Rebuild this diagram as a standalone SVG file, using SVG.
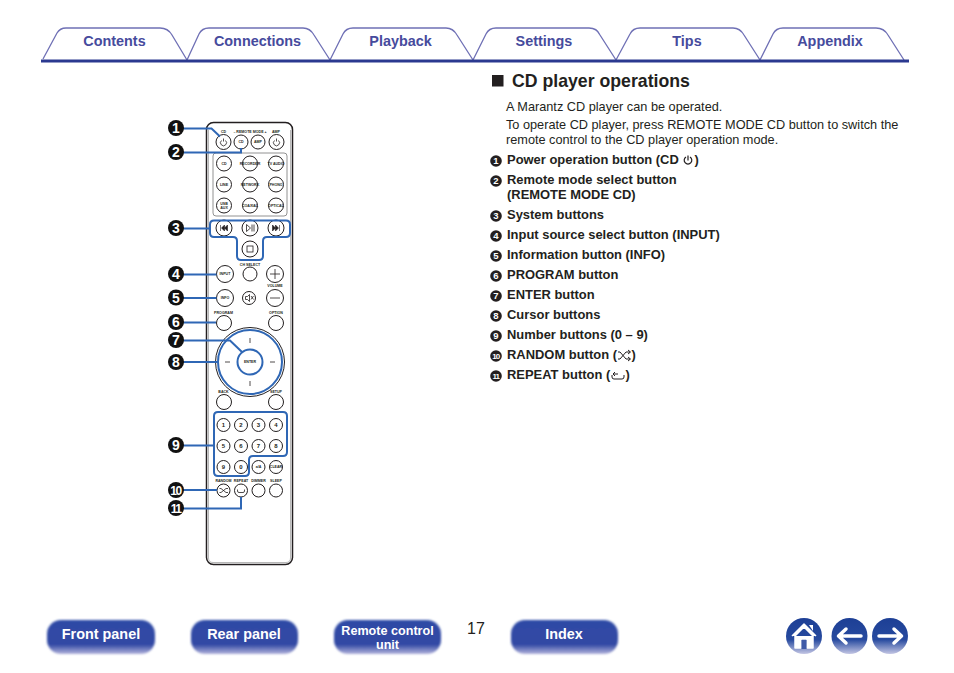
<svg xmlns="http://www.w3.org/2000/svg" width="954" height="673" viewBox="0 0 954 673">
<style>
text{font-family:"Liberation Sans",Arial,sans-serif}
.tab{fill:none;stroke:#6f70b5;stroke-width:1.3}
.tl{font-size:14.4px;font-weight:700;fill:#464b9d;text-anchor:middle}
.body{font-size:12.72px;fill:#231f20}
.it{font-size:12.95px;font-weight:700;fill:#231f20}
.bu{fill:#231f20}
.bn{font-size:9.500px;font-weight:700;fill:#fff;text-anchor:middle}
.bd{fill:#111}
.bdn{font-size:14px;font-weight:700;fill:#fff;text-anchor:middle}
.b{fill:#fff;stroke:#231f20;stroke-width:1}
.l{font-size:3.6px;font-weight:700;fill:#231f20;text-anchor:middle}
.n{font-size:6px;font-weight:700;fill:#231f20;text-anchor:middle}
.c{fill:none;stroke:#2f67b5;stroke-width:2}
.nb{font-size:14.400px;font-weight:700;fill:#fff;text-anchor:middle}
.nbs{font-size:12.600px;font-weight:700;fill:#fff;text-anchor:middle}
.s{fill:none;stroke:#231f20;stroke-width:.8}
</style>
<defs>
<linearGradient id="g" x1="0" y1="0" x2="0" y2="1"><stop offset="0" stop-color="#2f4ba6"/><stop offset=".72" stop-color="#3149a4"/><stop offset="1" stop-color="#b3b3dc"/></linearGradient>
<linearGradient id="h" x1="0" y1="0" x2="0" y2="1"><stop offset="0" stop-color="#1d3f95"/><stop offset=".6" stop-color="#274a9f"/><stop offset="1" stop-color="#c4c6e4"/></linearGradient>
<filter id="blur" x="-10%" y="-20%" width="120%" height="140%"><feGaussianBlur stdDeviation="1"/></filter>
</defs>

<g id="tabs">
<path class="tab" d="M43 59L57 33Q60 28 66 28H160Q168 28 172 35L187 60"/>
<path class="tab" d="M187 60L199 34Q202 28 209 28H303Q310 28 314 35L330 60"/>
<path class="tab" d="M330 60L343 34Q346 28 353 28H446Q453 28 457 35L473 60"/>
<path class="tab" d="M473 60L486 34Q489 28 496 28H589Q597 28 600 35L616 60"/>
<path class="tab" d="M616 60L630 34Q633 28 640 28H733Q740 28 744 35L760 60"/>
<path class="tab" d="M760 60L773 34Q776 28 783 28H876Q884 28 888 35L904 60"/>
<rect x="41" y="59.500" width="868" height="3" fill="#2b3990"/>
<text class="tl" x="114.500" y="46">Contents</text>
<text class="tl" x="257.500" y="46">Connections</text>
<text class="tl" x="400.500" y="46">Playback</text>
<text class="tl" x="544" y="46">Settings</text>
<text class="tl" x="687" y="46">Tips</text>
<text class="tl" x="830" y="46">Appendix</text>
</g>

<g id="remote">
<rect x="206.500" y="122.500" width="86" height="442" rx="7" fill="#fff" stroke="#231f20" stroke-width="1.500"/>
<path d="M208.500 130V558Q208.500 562.500 213 562.500H286Q290.500 562.500 290.500 558V130" fill="none" stroke="#9a9a9a" stroke-width=".7"/>
<text class="l" x="223.500" y="133">CD</text><text class="l" x="250" y="133">– REMOTE MODE +</text><text class="l" x="276" y="133">AMP</text>
<circle class="b" cx="223.500" cy="142" r="7.500"/><circle class="b" cx="241" cy="142" r="7"/><circle class="b" cx="258" cy="142" r="7"/><circle class="b" cx="276.500" cy="142" r="7.500"/>
<path class="s" d="M221.500 140.500a3 3 0 1 0 4 0M223.500 138.500v3M274.500 140.500a3 3 0 1 0 4 0M276.500 138.500v3"/>
<text class="l" x="241" y="143.300">CD</text><text class="l" x="258" y="143.300">AMP</text>
<rect x="213" y="153" width="74" height="63" rx="3" fill="none" stroke="#777" stroke-width=".8"/>
<g class="b"><circle cx="224" cy="163.500" r="7.500"/><circle cx="250" cy="163.500" r="7.500"/><circle cx="276" cy="163.500" r="7.500"/><circle cx="224" cy="184.500" r="7.500"/><circle cx="250" cy="184.500" r="7.500"/><circle cx="276" cy="184.500" r="7.500"/><circle cx="224" cy="205.500" r="7.500"/><circle cx="250" cy="205.500" r="7.500"/><circle cx="276" cy="205.500" r="7.500"/></g>
<text class="l" x="224" y="164.800">CD</text><text class="l" x="250" y="164.800">RECORDER</text><text class="l" x="276" y="164.800">TV AUDIO</text>
<text class="l" x="224" y="185.800">LINE</text><text class="l" x="250" y="185.800">NETWORK</text><text class="l" x="276" y="185.800">PHONO</text>
<text class="l" x="224" y="204.500">USB</text><text class="l" x="224" y="208.500">AUX</text><text class="l" x="250" y="206.800">COAXIAL</text><text class="l" x="276" y="206.800">OPTICAL</text>
<circle class="b" cx="224" cy="228" r="8"/><circle class="b" cx="250" cy="228" r="8"/><circle class="b" cx="276" cy="228" r="8"/><circle class="b" cx="250" cy="249" r="8"/>
<path d="M220.500 225v6M227.500 225l-3 3 3 3zM224.500 225l-3 3 3 3zM279.500 225v6M272.500 225l3 3-3 3zM275.500 225l3 3-3 3z" fill="#231f20" stroke="#231f20" stroke-width=".6"/>
<path class="s" d="M246.500 224.500l4 3.500-4 3.500zM252 224.500v7M254 224.500v7"/>
<rect class="s" x="247" y="246" width="6" height="6"/>
<text class="l" x="250" y="266">CH SELECT</text>
<circle class="b" cx="225" cy="274" r="8.500"/><circle class="b" cx="250" cy="274" r="7"/><circle class="b" cx="275" cy="274" r="8.500"/>
<text class="l" x="225" y="275.300">INPUT</text><path class="s" d="M275 269v10M270 274h10"/>
<text class="l" x="275" y="287">VOLUME</text>
<circle class="b" cx="225" cy="298" r="8.500"/><circle class="b" cx="249" cy="298" r="6.500"/><circle class="b" cx="275" cy="298" r="8.500"/>
<text class="l" x="225" y="299.300">INFO</text><path class="s" d="M245.500 296.500h2l2-2v7l-2-2h-2zM251 296l2.500 3.500M253.500 296l-2.500 3.500M270 298h10"/>
<text class="l" x="223.500" y="314">PROGRAM</text><text class="l" x="276" y="314">OPTION</text>
<circle class="b" cx="224" cy="323" r="7.500"/><circle class="b" cx="276" cy="323" r="7.500"/>
<circle class="b" cx="250" cy="362" r="34.500"/><circle cx="250" cy="362" r="32" fill="none" stroke="#2f67b5" stroke-width="2"/>
<circle cx="250" cy="362" r="12.500" fill="#fff" stroke="#2f67b5" stroke-width="2"/>
<text class="l" x="250" y="363.300">ENTER</text>
<path class="s" d="M250 338v5M250 381v5M225 362h5M270 362h5"/>
<text class="l" x="223.500" y="393">BACK</text><text class="l" x="276" y="393">SETUP</text>
<circle class="b" cx="224" cy="402" r="7.500"/><circle class="b" cx="276" cy="402" r="7.500"/>
<g class="b"><circle cx="223.500" cy="425" r="6.500"/><circle cx="241" cy="425" r="6.500"/><circle cx="258.500" cy="425" r="6.500"/><circle cx="276" cy="425" r="6.500"/><circle cx="223.500" cy="446" r="6.500"/><circle cx="241" cy="446" r="6.500"/><circle cx="258.500" cy="446" r="6.500"/><circle cx="276" cy="446" r="6.500"/><circle cx="223.500" cy="467" r="6.500"/><circle cx="241" cy="467" r="6.500"/><circle cx="258.500" cy="467" r="6.500"/><circle cx="276" cy="467" r="6.500"/></g>
<text class="n" x="223.500" y="427">1</text><text class="n" x="241" y="427">2</text><text class="n" x="258.500" y="427">3</text><text class="n" x="276" y="427">4</text>
<text class="n" x="223.500" y="448">5</text><text class="n" x="241" y="448">6</text><text class="n" x="258.500" y="448">7</text><text class="n" x="276" y="448">8</text>
<text class="n" x="223.500" y="469">9</text><text class="n" x="241" y="469">0</text><text class="l" x="258.500" y="468.300">a/A</text><text class="l" x="276" y="468.300">CLEAR</text>
<text class="l" x="223.500" y="482">RANDOM</text><text class="l" x="241" y="482">REPEAT</text><text class="l" x="258.500" y="482">DIMMER</text><text class="l" x="276" y="482">SLEEP</text>
<circle class="b" cx="223.500" cy="490.500" r="6.500"/><circle class="b" cx="241" cy="490.500" r="6.500"/><circle class="b" cx="258.500" cy="490.500" r="6.500"/><circle class="b" cx="276" cy="490.500" r="6.500"/>
<path class="s" d="M219.500 488.500h1.500l5 4h2M219.500 492.500h1.500l5-4h2M237.500 489.500v1.500q0 1.500 1.500 1.500h4q1.500 0 1.500-1.500v-1.500"/>
</g>

<g id="connectors">
<path class="c" d="M176 128.500H211.500L220 136.500"/>
<path class="c" d="M176 152.500H241V148"/>
<path class="c" d="M176 228.500H210.500"/>
<path class="c" d="M214 220.500H286Q290 220.500 290 224.500V233Q290 237 286 237H267Q263 237 263 241V256Q263 260 259 260H241Q237 260 237 256V241Q237 237 233 237H214Q210 237 210 233V224.500Q210 220.500 214 220.500Z"/>
<path class="c" d="M176 274.500H216.500"/>
<path class="c" d="M176 298H216.500"/>
<path class="c" d="M176 322.500H216"/>
<path class="c" d="M176 340.500H230L242 352"/>
<path class="c" d="M176 362H218"/>
<path class="c" d="M176 445.500H214"/>
<path class="c" d="M218 412H283Q287 412 287 416V452Q287 456 283 456H253Q249 456 249 460V472Q249 476 245 476H218Q214 476 214 472V416Q214 412 218 412Z"/>
<path class="c" d="M176 490H217"/>
<path class="c" d="M176 508.500H241V497"/>
</g>

<g id="badge-1"><circle class="bd" cx="176" cy="128" r="8"/><text class="bdn" x="176" y="133">1</text></g>
<g id="badge-2"><circle class="bd" cx="176" cy="152" r="8"/><text class="bdn" x="176" y="157">2</text></g>
<g id="badge-3"><circle class="bd" cx="176" cy="228" r="8"/><text class="bdn" x="176" y="233">3</text></g>
<g id="badge-4"><circle class="bd" cx="176" cy="274" r="8"/><text class="bdn" x="176" y="279">4</text></g>
<g id="badge-5"><circle class="bd" cx="176" cy="297.500" r="8"/><text class="bdn" x="176" y="302.500">5</text></g>
<g id="badge-6"><circle class="bd" cx="176" cy="322" r="8"/><text class="bdn" x="176" y="327">6</text></g>
<g id="badge-7"><circle class="bd" cx="176" cy="340" r="8"/><text class="bdn" x="176" y="345">7</text></g>
<g id="badge-8"><circle class="bd" cx="176" cy="362" r="8"/><text class="bdn" x="176" y="367">8</text></g>
<g id="badge-9"><circle class="bd" cx="176" cy="445" r="8"/><text class="bdn" x="176" y="450">9</text></g>
<g id="badge-10"><circle class="bd" cx="176" cy="490" r="8"/><text class="bdn" x="175.500" y="494.500" style="font-size:12px;letter-spacing:-1.500px">10</text></g>
<g id="badge-11"><circle class="bd" cx="176" cy="508" r="8"/><text class="bdn" x="175.500" y="512.500" style="font-size:12px;letter-spacing:-1.500px">11</text></g>

<g id="content">
<rect x="492" y="75" width="11.500" height="11.500" fill="#231f20"/>
<text x="512" y="87" style="font-size:17.700px;font-weight:700" fill="#231f20">CD player operations</text>
<text class="body" x="506" y="111">A Marantz CD player can be operated.</text>
<text class="body" x="506" y="129">To operate CD player, press REMOTE MODE CD button to switch the</text>
<text class="body" x="506" y="144">remote control to the CD player operation mode.</text>

<circle class="bu" cx="496" cy="161" r="5.800"/><text class="bn" x="496" y="164.300">1</text>
<text class="it" x="507" y="164">Power operation button (CD <tspan x="694.500">)</tspan></text>
<path d="M686 157a3.800 3.800 0 1 0 4 0M688 155.500v5" fill="none" stroke="#231f20" stroke-width="1.200"/>
<circle class="bu" cx="496" cy="181" r="5.800"/><text class="bn" x="496" y="184.300">2</text>
<text class="it" x="507" y="184">Remote mode select button</text>
<text class="it" x="507" y="199">(REMOTE MODE CD)</text>
<circle class="bu" cx="496" cy="216" r="5.800"/><text class="bn" x="496" y="219.300">3</text>
<text class="it" x="507" y="219">System buttons</text>
<circle class="bu" cx="496" cy="236" r="5.800"/><text class="bn" x="496" y="239.300">4</text>
<text class="it" x="507" y="239">Input source select button (INPUT)</text>
<circle class="bu" cx="496" cy="256" r="5.800"/><text class="bn" x="496" y="259.300">5</text>
<text class="it" x="507" y="259">Information button (INFO)</text>
<circle class="bu" cx="496" cy="276" r="5.800"/><text class="bn" x="496" y="279.300">6</text>
<text class="it" x="507" y="279">PROGRAM button</text>
<circle class="bu" cx="496" cy="296" r="5.800"/><text class="bn" x="496" y="299.300">7</text>
<text class="it" x="507" y="299">ENTER button</text>
<circle class="bu" cx="496" cy="316" r="5.800"/><text class="bn" x="496" y="319.300">8</text>
<text class="it" x="507" y="319">Cursor buttons</text>
<circle class="bu" cx="496" cy="336" r="5.800"/><text class="bn" x="496" y="339.300">9</text>
<text class="it" x="507" y="339">Number buttons (0 – 9)</text>
<circle class="bu" cx="496" cy="356" r="5.800"/><text class="bn" x="495.700" y="359" style="font-size:8px;letter-spacing:-1px">10</text>
<text class="it" x="507" y="359">RANDOM button (<tspan x="631.500">)</tspan></text>
<path d="M618 352h2l6 7h4M618 359h2l6-7h4M628 350l2.500 2-2.500 2M628 357l2.500 2-2.500 2" fill="none" stroke="#231f20" stroke-width="1"/>
<circle class="bu" cx="496" cy="376" r="5.800"/><text class="bn" x="495.700" y="379" style="font-size:8px;letter-spacing:-1px">11</text>
<text class="it" x="507" y="379">REPEAT button (<tspan x="625.500">)</tspan></text>
<path d="M612 375v2q0 2 2 2h8q2 0 2-2v-2M618 374h-5M615 372l-2 2 2 2" fill="none" stroke="#231f20" stroke-width="1"/>
<text x="476" y="634" style="font-size:16px;text-anchor:middle" fill="#231f20">17</text>
</g>

<g id="btn-front"><rect x="47" y="620" width="108" height="34" rx="14" fill="url(#g)" filter="url(#blur)"/><text class="nb" x="101" y="639">Front panel</text></g>
<g id="btn-rear"><rect x="191" y="620" width="107" height="34" rx="14" fill="url(#g)" filter="url(#blur)"/><text class="nb" x="244" y="639">Rear panel</text></g>
<g id="btn-remote"><rect x="334" y="620" width="107" height="34" rx="14" fill="url(#g)" filter="url(#blur)"/><text class="nbs" x="387.500" y="635">Remote control</text><text class="nbs" x="387.500" y="649">unit</text></g>
<g id="btn-index"><rect x="511" y="620" width="107" height="34" rx="14" fill="url(#g)" filter="url(#blur)"/><text class="nb" x="564" y="639">Index</text></g>

<g id="nav-home"><circle cx="804" cy="636" r="18" fill="url(#h)"/><path d="M792 636L804 624L816 636M795 636V648H801V639H807V648H813V636L804 627Z" fill="#fff" stroke="#fff" stroke-width="1.500" stroke-linejoin="round"/><path d="M809 625h4v6z" fill="#fff"/><rect x="801.500" y="640" width="5" height="9" fill="#3f5aa8"/></g>
<g id="nav-back"><circle cx="849.500" cy="636" r="18" fill="url(#h)"/><path d="M861 636H839M846 629L838.500 636L846 643" fill="none" stroke="#fff" stroke-width="3.500" stroke-linecap="round" stroke-linejoin="round"/></g>
<g id="nav-forward"><circle cx="890" cy="636" r="18" fill="url(#h)"/><path d="M879 636H901M894 629L901.500 636L894 643" fill="none" stroke="#fff" stroke-width="3.500" stroke-linecap="round" stroke-linejoin="round"/></g>
</svg>
